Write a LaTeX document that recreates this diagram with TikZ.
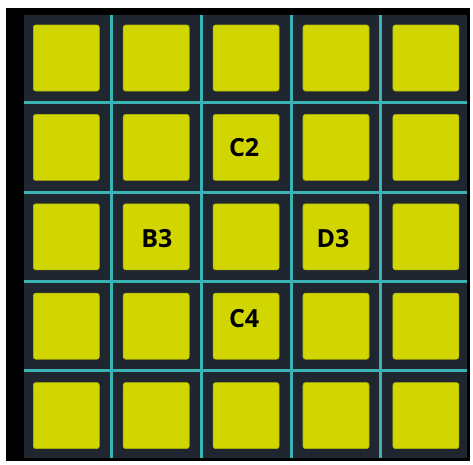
\documentclass[tikz,border=0pt]{standalone}
\usepackage{fontspec}
\setsansfont{Open Sans}
\definecolor{boardslate}{HTML}{1F2630}
\definecolor{padyellow}{HTML}{D2D600}
\definecolor{gridcyan}{HTML}{3BB3B5}

\begin{document}
\begin{tikzpicture}[
		x=1pt, y=-1pt,
		pad/.style = {fill=padyellow, draw=padyellow!85!black, line width=0.6pt, minimum size=66pt, inner sep=0pt, rounded corners=2.5pt},
		padlabel/.style = {font=\sffamily\bfseries\fontsize{25}{30}\selectfont, text=black},
		gridline/.style = {draw=gridcyan, line width=3pt}
		]
		\useasboundingbox (0,0) rectangle (473,464);
		
		% board with its shadow
		\fill[black] (6,8) rectangle (470,461);
		\fill[boardslate] (24,15) rectangle (467,458);
		
		% grid lines
		\foreach \k in {1,...,4} {
			\draw[gridline] ({66.3+89.9*\k-44.95},15) -- ({66.3+89.9*\k-44.95},458);
			\draw[gridline] (24,{58+89.4*\k-44.7}) -- (467,{58+89.4*\k-44.7});
		}
		
		% pads
		\foreach \c/\col in {0/A,1/B,2/C,3/D,4/E} {
			\foreach \r/\row in {0/1,1/2,2/3,3/4,4/5} {
				\node[pad] (\col\row) at ({66.3+89.9*\c},{58+89.4*\r}) {};
			}
		}
		
		\node[padlabel, xshift=-2pt] (C2lbl) at (C2) {C2};
		\node[padlabel, xshift=0.7pt, yshift=-1.5pt] (B3lbl) at (B3) {B3};
		\node[padlabel, xshift=-3pt, yshift=-1.5pt] (D3lbl) at (D3) {D3};
		\node[padlabel, xshift=-2pt, yshift=8pt] (C4lbl) at (C4) {C4};
\end{tikzpicture}
\end{document}
